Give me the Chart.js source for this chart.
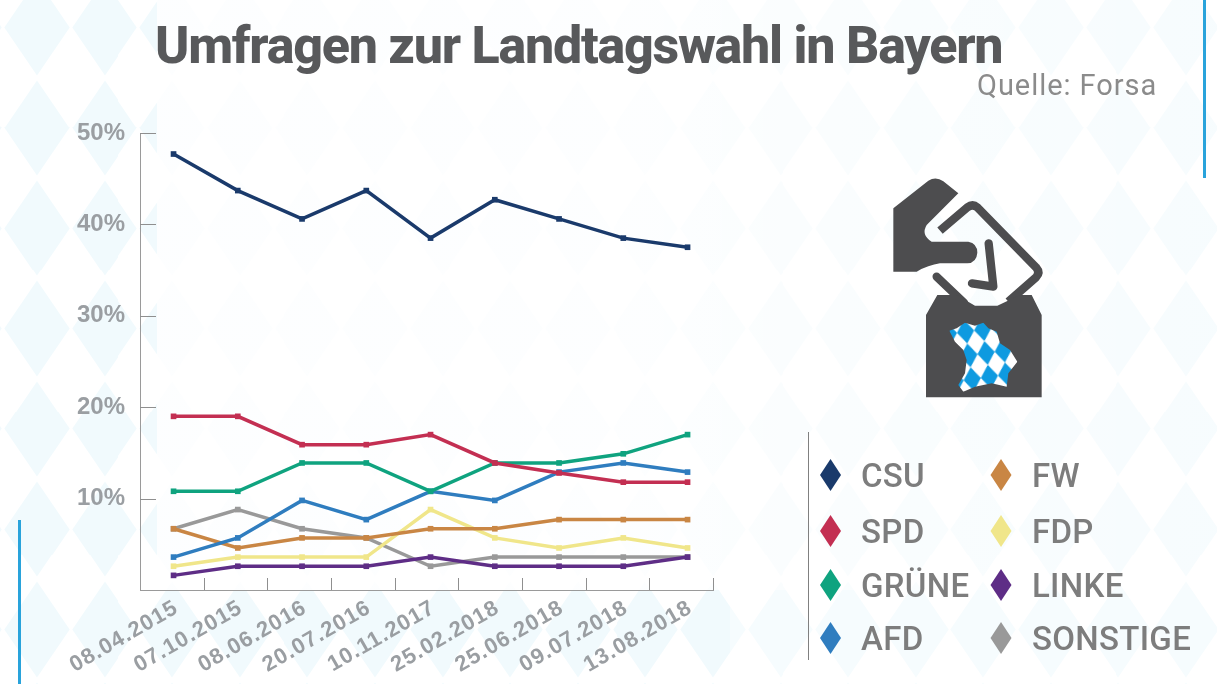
<!DOCTYPE html>
<html lang="de">
<head>
<meta charset="utf-8">
<title>Umfragen zur Landtagswahl in Bayern</title>
<script src="https://cdn.jsdelivr.net/npm/chart.js@4"></script>
<style>
html, body { margin: 0; padding: 0; width: 1217px; height: 684px; overflow: hidden; background: #fff; }
#bg { position: absolute; left: 0; top: 0; width: 1217px; height: 684px;
  background-image: url("data:image/svg+xml,%3Csvg xmlns='http://www.w3.org/2000/svg' width='67.6' height='100.3'%3E%3Cpolygon points='33.8,2.5 66.3,50.15 33.8,97.8 1.3,50.15' fill='%23f1fafd'/%3E%3C/svg%3E");
  background-size: 67.6px 100.3px; background-position: 3.2px 77.85px; }
#fade { position: absolute; left: 0; top: 0; width: 1217px; height: 590px;
  background: linear-gradient(to right, rgba(255,255,255,0) 0, rgba(255,255,255,0) 157px, rgba(255,255,255,.85) 157px, rgba(255,255,255,.85) 640px, rgba(255,255,255,.68) 780px, rgba(255,255,255,.4) 1217px); }
#fadeBottom { position: absolute; left: 730px; top: 590px; width: 487px; height: 94px; background: rgba(255,255,255,.35); }
#chart { position: absolute; left: 0; top: 0; }
#icon { position: absolute; left: 860px; top: 160px; }
</style>
</head>
<body>
<div id="bg"></div>
<div id="fade"></div>
<div id="fadeBottom"></div>
<canvas id="chart" width="1217" height="684"></canvas>
<svg id="icon" width="220" height="250" viewBox="0 0 660 750">
  <defs>
    <clipPath id="bayern"><polygon points="268,512 290,505 315,488 345,497 370,488 385,505 410,515 420,550 450,570 472,605 445,640 440,680 395,670 345,680 310,695 295,675 315,640 320,600 310,570 285,545"/></clipPath>
    <pattern id="rauten" width="52" height="72" patternUnits="userSpaceOnUse" patternTransform="rotate(-8) translate(8 14)">
      <rect width="52" height="72" fill="#fff"/>
      <polygon points="26,0 52,36 26,72 0,36" fill="#0e9ae0"/>
    </pattern>
  </defs>
  <path d="M100,145 L205,62 Q228,48 250,64 L295,100 L200,195 Q182,225 215,245 L325,245 Q352,250 352,278 Q350,308 322,310 L240,310 Q205,315 170,335 L100,335 Z" fill="#4d4d4f"/>
  <path d="M240,212 L322,142 Q338,130 352,142 L528,322 Q542,338 528,352 L445,425" fill="none" stroke="#4d4d4f" stroke-width="25" stroke-linejoin="round"/>
  <path d="M230,350 L312,428" fill="none" stroke="#4d4d4f" stroke-width="25" stroke-linecap="round"/>
  <path d="M386,250 L400,380 L336,370" fill="none" stroke="#4d4d4f" stroke-width="25" stroke-linecap="round" stroke-linejoin="round"/>
  <polygon points="198,465 232,405 290,405 345,437 412,437 480,405 515,405 545,465 545,712 198,712" fill="#4d4d4f"/>
  <rect x="250" y="480" width="240" height="220" fill="url(#rauten)" clip-path="url(#bayern)"/>
</svg>
<script>
const categories = ['08.04.2015', '07.10.2015', '08.06.2016', '20.07.2016', '10.11.2017', '25.02.2018', '25.06.2018', '09.07.2018', '13.08.2018'];
const parties = ['CSU', 'SPD', 'GRÜNE', 'AFD', 'FW', 'FDP', 'LINKE', 'SONSTIGE'];
const colors = ['#1a3a6b', '#c32f52', '#0fa37f', '#2f7dbf', '#c98644', '#f0e68a', '#5e2d86', '#999999'];

const csu      = [47.7, 43.7, 40.6, 43.7, 38.5, 42.7, 40.6, 38.5, 37.5];
const spd      = [19.0, 19.0, 15.9, 15.9, 17.0, 13.9, 12.8, 11.8, 11.8];
const gruene   = [10.8, 10.8, 13.9, 13.9, 10.8, 13.9, 13.9, 14.9, 17.0];
const afd      = [3.6, 5.7, 9.8, 7.7, 10.8, 9.8, 12.9, 13.9, 12.9];
const fw       = [6.7, 4.6, 5.7, 5.7, 6.7, 6.7, 7.7, 7.7, 7.7];
const fdp      = [2.6, 3.6, 3.6, 3.6, 8.8, 5.7, 4.6, 5.7, 4.6];
const linke    = [1.6, 2.6, 2.6, 2.6, 3.6, 2.6, 2.6, 2.6, 3.6];
const sonstige = [6.7, 8.8, 6.7, 5.7, 2.6, 3.6, 3.6, 3.6, 3.6];
const series = [csu, spd, gruene, afd, fw, fdp, linke, sonstige];

//tick marks inside the plot, the axis is cut in 9 bands
const innerTicks = {
    id: 'innerTicks',
    afterDraw: (chart) => {
        const {ctx, chartArea: {top, bottom, left, right}, scales: {y}} = chart;
        ctx.save();
        ctx.strokeStyle = '#8f8f8f';
        ctx.lineWidth = 1;
        ctx.beginPath();
        for (let k = 1; k <= 9; k++) {
            const px = Math.round(left + k * (right - left) / 9) + 0.5;
            ctx.moveTo(px, bottom);
            ctx.lineTo(px, bottom - 12);
        }
        y.ticks.forEach(t => {
            if (t.value === 0) return;
            const py = Math.round(y.getPixelForValue(t.value)) + 0.5;
            ctx.moveTo(left, py);
            ctx.lineTo(left + 16, py);
        });
        ctx.stroke();
        ctx.restore();
    }
};

//x tick labels have z 1, so they are drawn after the datasets: wider letters only for them
const spacedLabels = {
    id: 'spacedLabels',
    afterDatasetsDraw: (chart) => { chart.ctx.letterSpacing = '1.1px'; },
    afterDraw: (chart) => { chart.ctx.letterSpacing = '0px'; }
};

//title, source, accent lines and the two column legend
const decoration = {
    id: 'decoration',
    afterDraw: (chart) => {
        const {ctx} = chart;
        ctx.save();

        ctx.fillStyle = '#29a3db';
        ctx.fillRect(18, 520, 3, 164);
        ctx.fillRect(1203, 0, 3, 178);

        ctx.textBaseline = 'alphabetic';
        ctx.textAlign = 'left';
        ctx.fillStyle = '#58595b';
        ctx.font = '800 52px Roboto';
        ctx.letterSpacing = '-1.25px';
        ctx.fillText('Umfragen zur Landtagswahl in Bayern', 155, 63);

        ctx.fillStyle = '#8b8b8b';
        ctx.font = '400 29px Roboto';
        ctx.letterSpacing = '0.95px';
        ctx.fillText('Quelle: Forsa', 977, 95);

        ctx.fillStyle = '#808080';
        ctx.fillRect(808, 432, 1, 228);

        const rowY = [475, 531, 585, 638];
        parties.forEach((name, i) => {
            const col = i < 4 ? 0 : 1;
            const cx = col ? 1001 : 830.5;
            const cy = rowY[i % 4];
            ctx.fillStyle = colors[i];
            ctx.beginPath();
            ctx.moveTo(cx, cy - 16);
            ctx.lineTo(cx + 10.5, cy);
            ctx.lineTo(cx, cy + 16);
            ctx.lineTo(cx - 10.5, cy);
            ctx.closePath();
            ctx.fill();

            ctx.fillStyle = '#7d7d7d';
            ctx.font = '500 33px Roboto';
            ctx.letterSpacing = '0.3px';
            ctx.fillText(name, col ? 1032 : 861, cy + 12);
        });
        ctx.restore();
    }
};

new Chart(document.getElementById('chart'), {
    type: 'line',
    data: {
        datasets: parties.map((name, i) => ({
            label: name,
            data: series[i].map((v, k) => ({x: k, y: v})),
            borderColor: colors[i],
            backgroundColor: colors[i],
            borderWidth: 3.5,
            pointStyle: 'rect',
            pointRadius: 4,
            pointBorderWidth: 0,
            tension: 0
        }))
    },
    options: {
        responsive: false,
        animation: false,
        layout: {padding: {top: 133, right: 504, left: 0, bottom: 0}},
        scales: {
            x: {
                type: 'linear',
                min: -0.522,
                max: 8.396,
                afterBuildTicks: (scale) => { scale.ticks = categories.map((c, i) => ({value: i})); },
                afterFit: (scale) => { scale.height = 94; },
                grid: {display: false},
                border: {color: '#9a9a9a', width: 1},
                ticks: {
                    autoSkip: false,
                    minRotation: 30,
                    maxRotation: 30,
                    padding: -3,
                    labelOffset: 3,
                    z: 1,
                    color: '#9a9ea2',
                    font: {family: 'Liberation Sans', weight: 'bold', size: 22},
                    callback: (v) => categories[v]
                }
            },
            y: {
                min: 0,
                max: 50,
                afterFit: (scale) => { scale.width = 140; },
                grid: {display: false},
                border: {color: '#9a9a9a', width: 1},
                ticks: {
                    stepSize: 10,
                    padding: 7,
                    color: '#9a9ea2',
                    font: {family: 'Liberation Sans', weight: 'bold', size: 24},
                    callback: (v) => v === 0 ? '' : v + '%'
                }
            }
        },
        plugins: {legend: false, tooltip: {enabled: false}, title: {display: false}}
    },
    plugins: [innerTicks, spacedLabels, decoration]
});
</script>
</body>
</html>
